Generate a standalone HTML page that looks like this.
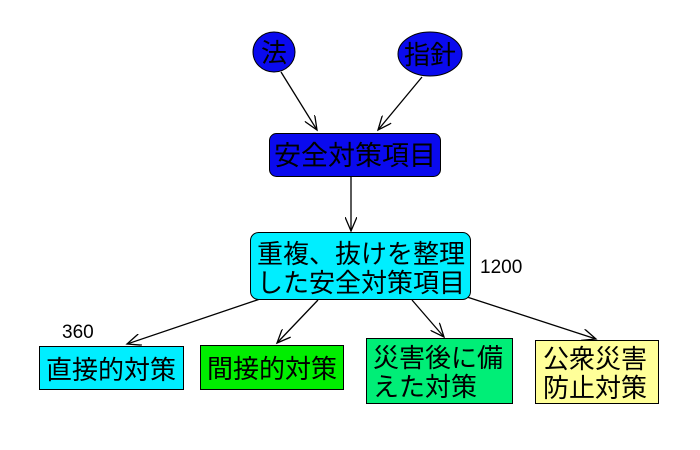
<!DOCTYPE html>
<html><head><meta charset="utf-8"><style>
html,body{margin:0;padding:0;background:#fff;width:700px;height:450px;overflow:hidden}
svg text{font-family:"Liberation Sans","Noto Sans CJK JP",sans-serif;fill:#000}
</style></head><body>
<svg width="700" height="450" viewBox="0 0 700 450" xmlns="http://www.w3.org/2000/svg">
<defs><marker id="a" markerWidth="16" markerHeight="12" refX="14" refY="6" orient="auto" markerUnits="userSpaceOnUse"><path d="M0,0 L14,6 L0,12" fill="none" stroke="#000" stroke-width="1.3"/></marker></defs>
<g stroke="#000" stroke-width="1.3" fill="none" marker-end="url(#a)">
<line x1="281" y1="72" x2="317" y2="130"/>
<line x1="422" y1="77" x2="378" y2="130"/>
<line x1="351" y1="176" x2="351" y2="231"/>
<line x1="263" y1="298" x2="127" y2="344"/>
<line x1="318" y1="300" x2="277" y2="343"/>
<line x1="412" y1="300" x2="444" y2="337"/>
<line x1="467" y1="297" x2="596" y2="339"/>
</g>
<ellipse cx="274" cy="52" rx="21" ry="20" fill="#0a0aee" stroke="#000"/>
<ellipse cx="430" cy="54" rx="32" ry="22" fill="#0a0aee" stroke="#000"/>
<text x="274" y="62" font-size="26" text-anchor="middle">法</text>
<text x="430" y="64" font-size="26" text-anchor="middle">指針</text>
<rect x="269.5" y="133.5" width="171" height="43" rx="7" fill="#0a0aee" stroke="#000"/>
<text x="355" y="165" font-size="27" text-anchor="middle">安全対策項目</text>
<rect x="250.5" y="232.5" width="220" height="67" rx="8" fill="#00eeff" stroke="#000"/>
<text x="361" y="263" font-size="26" text-anchor="middle">重複、抜けを整理</text>
<text x="361" y="292" font-size="26" text-anchor="middle">した安全対策項目</text>
<text x="480" y="273" font-size="19">1200</text>
<text x="62" y="338" font-size="19">360</text>
<rect x="39.5" y="346.5" width="144" height="43" fill="#00eeff" stroke="#000"/>
<text x="111" y="379" font-size="26" text-anchor="middle">直接的対策</text>
<rect x="200.5" y="345.5" width="143" height="44" fill="#00ee00" stroke="#000"/>
<text x="272" y="378" font-size="26" text-anchor="middle">間接的対策</text>
<rect x="366.5" y="338.5" width="146" height="65" fill="#00ee77" stroke="#000"/>
<text x="373" y="367" font-size="26">災害後に備</text>
<text x="373" y="396" font-size="26">えた対策</text>
<rect x="535.5" y="340.5" width="123" height="63" fill="#ffff99" stroke="#000"/>
<text x="543" y="368" font-size="26">公衆災害</text>
<text x="543" y="397" font-size="26">防止対策</text>
</svg>
</body></html>
